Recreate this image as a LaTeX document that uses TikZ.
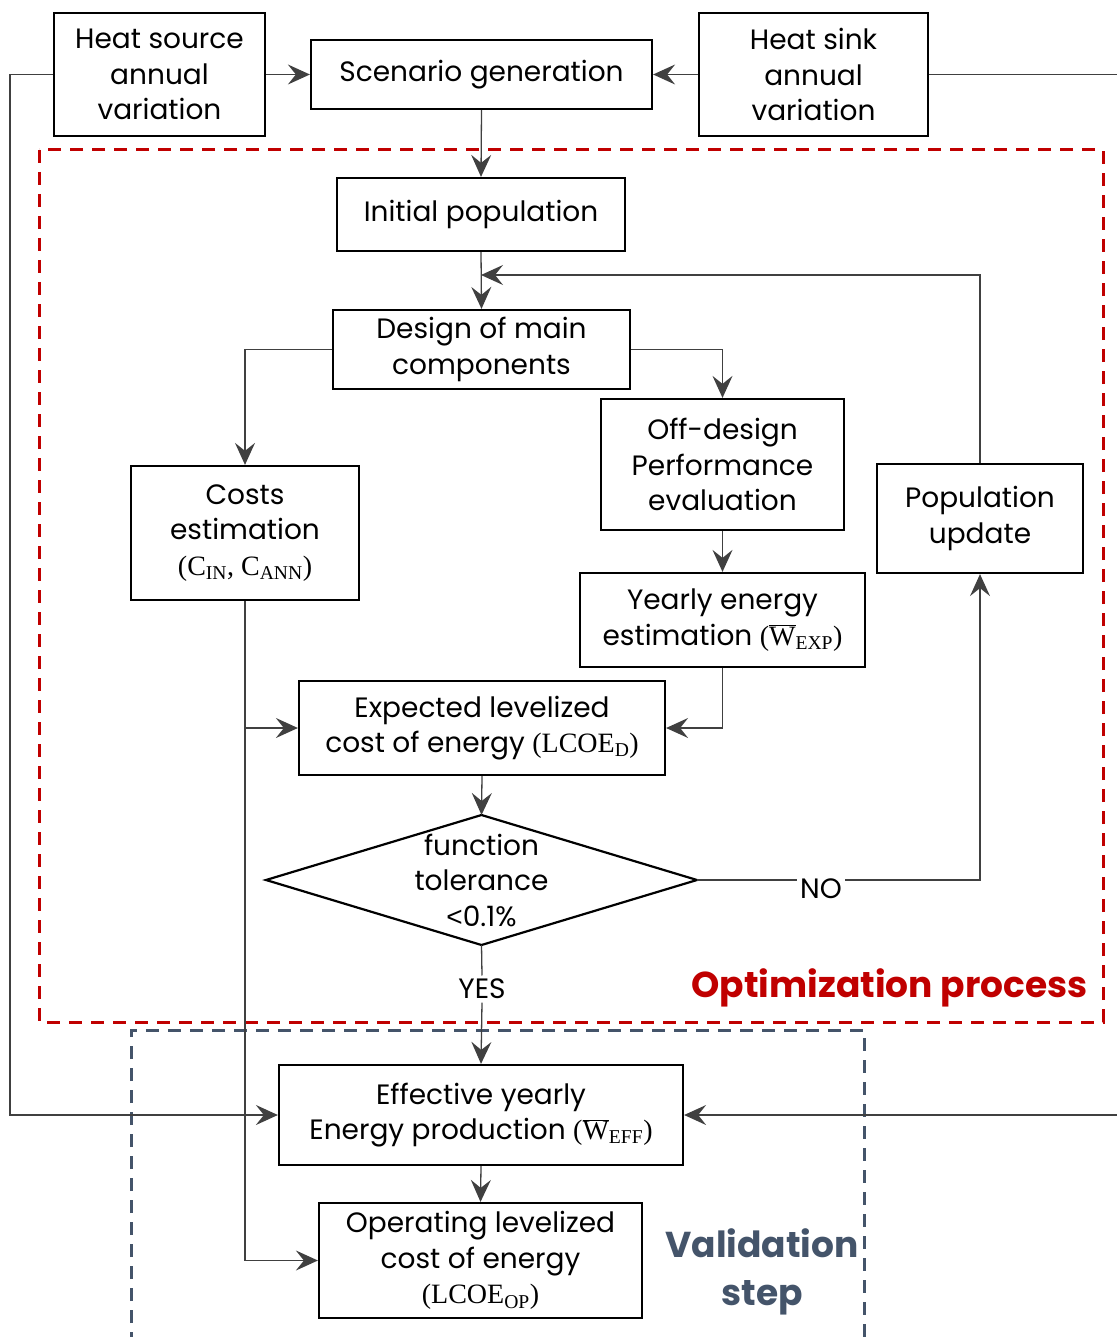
\documentclass[tikz,border=0pt]{standalone}
\usepackage[no-math]{fontspec}
\setmainfont{Poppins}
\newfontfamily\mserif{Liberation Serif}
\newfontfamily\lsans{Liberation Sans}
\newcommand\msub[2]{{\mserif #1\textsubscript{#2}}}
\newcommand\wbar[1]{{\mserif$\overline{\hbox{\mserif W}}$\textsubscript{#1}}}
\usetikzlibrary{arrows.meta}
\definecolor{optred}{HTML}{C00000}
\definecolor{valblue}{HTML}{44546A}
\begin{document}
\begin{tikzpicture}[x=1pt,y=-1pt,
  box/.style={draw=black,line width=2.2pt,align=center,inner sep=0pt,font=\fontsize{28}{35.5}\selectfont},
  conn/.style={draw=black!75,line width=1.3pt},
  arr/.style={conn,-{Stealth[length=22pt,width=20pt,inset=8pt]}},
  lbl/.style={font=\fontsize{28}{35.5}\selectfont}
]
\useasboundingbox (0,0) rectangle (1116,1337);
% dashed regions
\draw[optred,line width=3pt,dash pattern=on 13pt off 9pt] (39,150) rectangle (1103,1022);
\draw[valblue,line width=3pt,dash pattern=on 13pt off 9pt] (131,1345) -- (131,1030) -- (864,1030) -- (864,1345);
% nodes
\node[box,minimum width=211pt,minimum height=123pt] (src) at (159.5,74.5) {Heat source\\annual\\variation};
\node[box,minimum width=341pt,minimum height=69pt] (scen) at (481.5,74.5) {Scenario generation};
\node[box,minimum width=229pt,minimum height=123pt] (sink) at (813.5,74.5) {Heat sink\\annual\\variation};
\node[box,minimum width=288pt,minimum height=73pt] (init) at (481,214.5) {Initial population};
\node[box,minimum width=297pt,minimum height=79pt] (design) at (481.5,349.5) {Design of main\\components};
\node[box,minimum width=243pt,minimum height=131pt] (off) at (722.5,464.5) {Off-design\\Performance\\evaluation};
\node[box,minimum width=228pt,minimum height=134pt] (cost) at (245,533) {Costs\\estimation\\{\mserif(}\msub{C}{IN}{\mserif, }\msub{C}{ANN}{\mserif)}};
\node[box,minimum width=206pt,minimum height=109pt] (upd) at (980,518.5) {Population\\update};
\node[box,minimum width=285pt,minimum height=94pt] (year) at (722.5,620) {Yearly energy\\estimation {\mserif(}\wbar{EXP}{\mserif)}};
\node[box,minimum width=366pt,minimum height=94pt] (exp) at (482,728) {Expected levelized\\cost of energy {\mserif(}\msub{LCOE}{D}{\mserif)}};
\draw[line width=2.2pt] (266,880) coordinate (dl) -- (481.5,815) coordinate (dt) -- (697,880) coordinate (dr) -- (481.5,945) coordinate (db) -- cycle;
\node[lbl,align=center] (dtext) at (481.5,880) {function\\tolerance\\{\lsans<}0.1\%};
\node[lbl] (no) at (821,889) {NO};
\node[lbl] (yes) at (482,989) {YES};
\node[box,minimum width=404pt,minimum height=100pt] (eff) at (481,1115) {Effective yearly\\Energy production {\mserif(}\wbar{EFF}{\mserif)}};
\node[box,minimum width=323pt,minimum height=115pt] (op) at (480.5,1260.5) {Operating levelized\\cost of energy\\{\mserif(}\msub{LCOE}{OP}{\mserif)}};
\node[font=\fontsize{36}{40}\selectfont\bfseries,text=optred,anchor=east] (optlbl) at (1091,988) {Optimization process};
\node[font=\fontsize{36}{48}\selectfont\bfseries,text=valblue,align=center] (vallbl) at (762,1272) {Validation\\step};
% helper coordinates
\coordinate (lx) at (10,0);
\coordinate (rx) at (1125,0);
% connectors
\draw[arr] (src.east) -- (scen.west);
\draw[arr] (sink.west) -- (scen.east);
\draw[arr] (scen.south) -- (init.north);
\draw[arr] (init.south) -- (design.north);
\coordinate (loopend) at (481,275);
\draw[arr] (upd.north) |- (loopend);
\draw[arr] (design.west) -| (cost.north);
\draw[arr] (design.east) -| (off.north);
\draw[arr] (off.south) -- (year.north);
\draw[arr] (year.south) |- (exp.east);
\coordinate (cbr) at (245,728);
\draw[conn] (cost.south) -- (cbr);
\draw[arr] (cbr) -- (exp.west);
\draw[arr] (cbr) |- (op.west);
\draw[arr] (exp.south) -- (dt);
\draw[conn] (dr) -- (no.west |- dr);
\draw[arr] (no.east |- dr) -| (upd.south);
\draw[conn] (db) -- (yes.north);
\draw[arr] (yes.south) -- (eff.north);
\draw[arr] (src.west) -| (lx |- eff.west) -- (eff.west);
\draw[arr] (sink.east) -| (rx |- eff.east) -- (eff.east);
\draw[arr] (eff.south) -- (op.north);
\end{tikzpicture}
\end{document}
